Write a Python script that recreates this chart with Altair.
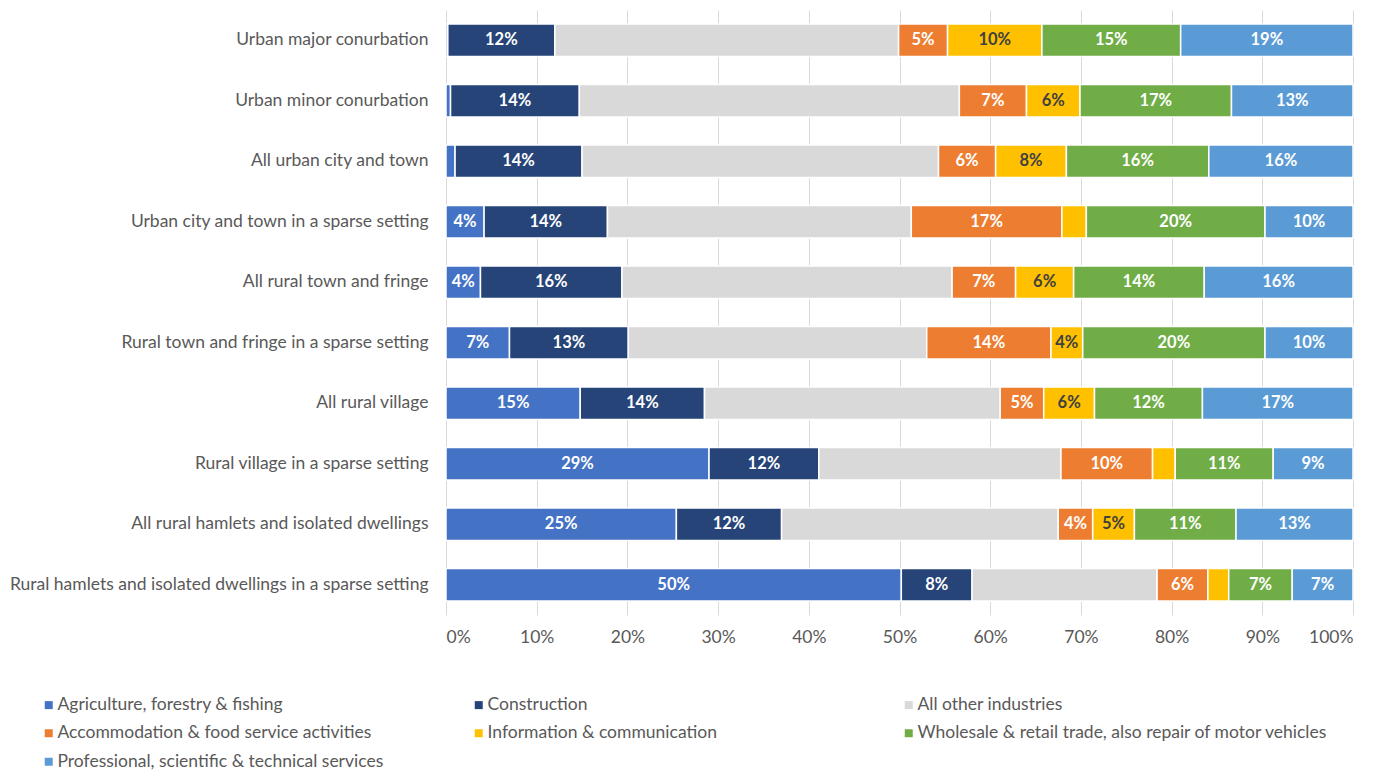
import altair as alt
import pandas as pd

categories = [
    "Urban major conurbation",
    "Urban minor conurbation",
    "All urban city and town",
    "Urban city and town in a sparse setting",
    "All rural town and fringe",
    "Rural town and fringe in a sparse setting",
    "All rural village",
    "Rural village in a sparse setting",
    "All rural hamlets and isolated dwellings",
    "Rural hamlets and isolated dwellings in a sparse setting",
]

industries = [
    "Agriculture, forestry & fishing",
    "Construction",
    "All other industries",
    "Accommodation & food service activities",
    "Information & communication",
    "Wholesale & retail trade, also repair of motor vehicles",
    "Professional, scientific & technical services",
]

colors = ["#4472C4", "#264478", "#D9D9D9", "#ED7D31", "#FFC000", "#70AD47", "#5B9BD5"]

agri = [0.2, 0.5, 1.0, 4.2, 3.8, 7.0, 14.8, 29.0, 25.4, 50.2]
construction = [11.8, 14.2, 14.0, 13.6, 15.6, 13.1, 13.7, 12.1, 11.6, 7.8]
other = [37.9, 41.9, 39.3, 33.5, 36.4, 32.9, 32.6, 26.7, 30.5, 20.4]
accom = [5.4, 7.4, 6.3, 16.6, 7.0, 13.7, 4.8, 10.1, 3.8, 5.6]
info = [10.4, 5.9, 7.8, 2.7, 6.4, 3.5, 5.6, 2.5, 4.6, 2.3]
wholesale = [15.3, 16.7, 15.7, 19.7, 14.4, 20.1, 11.9, 10.8, 11.2, 7.0]
prof = [19.0, 13.4, 15.9, 9.7, 16.4, 9.7, 16.6, 8.8, 12.9, 6.7]

series = [agri, construction, other, accom, info, wholesale, prof]
x_ticks = list(range(0, 101, 10))

rows = []
for i, cat in enumerate(categories):
    for j, ind in enumerate(industries):
        rows.append({"category": cat, "industry": ind, "order": j, "value": series[j][i]})
df = pd.DataFrame(rows)

FONT = "Lato"
TXT = "#595959"
FS = 17.5

base = alt.Chart(df).transform_stack(
    stack="value",
    groupby=["category"],
    as_=["x0", "x1"],
    sort=[alt.SortField("order", order="ascending")],
).transform_calculate(
    mid="(datum.x0 + datum.x1) / 2",
    label="round(datum.value) + '%'",
)

y_enc = alt.Y(
    "category:N",
    sort=categories,
    scale=alt.Scale(paddingInner=0.46, paddingOuter=0.23),
    axis=alt.Axis(
        title=None, ticks=False, domain=False, labelFontSize=FS, labelColor=TXT,
        labelPadding=18, labelLimit=600, labelFont=FONT,
    ),
)

bars = base.mark_bar(stroke="white", strokeWidth=1.5).encode(
    x=alt.X(
        "x0:Q",
        scale=alt.Scale(domain=[0, 100], nice=False),
        axis=alt.Axis(
            values=x_ticks, labelExpr="datum.value + '%'", title=None, ticks=False,
            domain=False, grid=True, gridColor="#D9D9D9", gridWidth=1,
            labelFontSize=FS, labelColor=TXT, labelFont=FONT, labelPadding=13,
        ),
    ),
    x2="x1:Q",
    y=y_enc,
    color=alt.Color(
        "industry:N",
        sort=industries,
        scale=alt.Scale(domain=industries, range=colors),
        legend=alt.Legend(
            title=None, orient="none", legendX=-406, legendY=686, columns=3,
            direction="horizontal", gridAlign="all", symbolType="square",
            symbolSize=64, symbolStrokeWidth=0,
            labelFontSize=FS, labelColor=TXT, labelFont=FONT, labelLimit=700,
            rowPadding=9.5, columnPadding=2, labelOffset=0,
        ),
    ),
    order=alt.Order("order:Q"),
)

text = base.transform_filter(
    "datum.value >= 3 && datum.industry != 'All other industries'"
).mark_text(
    font=FONT, fontWeight="bold", fontSize=16.5
).encode(
    x="mid:Q",
    y=alt.Y("category:N", sort=categories),
    text="label:N",
    color=alt.condition(
        "datum.industry == 'Information & communication'",
        alt.value("#404040"),
        alt.value("white"),
    ),
)

chart = (
    alt.layer(bars, text)
    .properties(
        width=907,
        height=605,
        autosize=alt.AutoSizeParams(type="none"),
        padding={"left": 438, "top": 2, "right": 20, "bottom": 158},
        background="white",
    )
    .configure_view(stroke=None)
)

chart.save("out.html", embed_options={"renderer": "svg", "actions": False})
